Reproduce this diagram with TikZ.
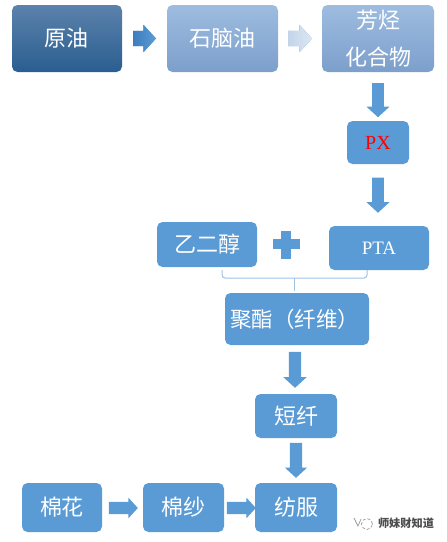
\documentclass[tikz,border=0pt]{standalone}
\usepackage{fontspec}
\setmainfont{Liberation Serif}
\newfontfamily\cjk{Noto Sans CJK SC}
\usetikzlibrary{shapes.arrows}
\definecolor{mainblue}{HTML}{5B9BD5}
\definecolor{bracketblue}{HTML}{9CC2E6}
\tikzset{
  flowbox/.style={rounded corners=5.5pt,inner sep=0pt,outer sep=0pt,text=white,align=center,font=\cjk\fontsize{22}{37}\selectfont},
  bluebox/.style={flowbox,fill=mainblue},
  crudebox/.style={flowbox,top color=crudetop,bottom color=crudebot},
  palebox/.style={flowbox,top color=paletop,bottom color=palebot},
  blockarrow/.style={single arrow,inner sep=0pt,outer sep=0pt,fill=mainblue,draw=none,
    single arrow head extend=5.5pt,inner ysep=5.75pt,single arrow tip angle=95},
  downarrow/.style={blockarrow,rotate=-90},
}
\definecolor{crudetop}{HTML}{5B82AB}
\definecolor{crudebot}{HTML}{2A5E90}
\definecolor{paletop}{HTML}{9EBCE0}
\definecolor{palebot}{HTML}{7C9FCB}
\definecolor{arrowa}{HTML}{3D7DBE}
\definecolor{arrowb}{HTML}{5B9BD5}
\definecolor{arrowc}{HTML}{C3D4EA}
\definecolor{arrowd}{HTML}{DDE7F3}
\begin{document}
\begin{tikzpicture}[x=1pt,y=-1pt]
\useasboundingbox (0,0) rectangle (447,542);
% boxes
\node[crudebox,minimum width=110pt,minimum height=67pt] (crude) at (67,38.5) {原油};
\node[palebox,minimum width=111pt,minimum height=67pt] (naphtha) at (222.5,38.5) {石脑油};
\node[palebox,minimum width=112pt,minimum height=67pt] (arom) at (378,38.5) {芳烃\\化合物};
\node[bluebox,minimum width=62pt,minimum height=43pt,text=red,font=\fontsize{20}{24}\selectfont] (px) at (378,142.5) {PX};
\node[bluebox,minimum width=100pt,minimum height=45pt] (glycol) at (207,244.5) {乙二醇};
\node[bluebox,minimum width=100pt,minimum height=44pt,font=\fontsize{19}{22}\selectfont] (pta) at (379,248) {PTA};
\node[bluebox,minimum width=144pt,minimum height=52pt,font=\cjk\fontsize{21.5}{24}\selectfont] (poly) at (297,319) {\hspace*{-5pt}聚酯（纤维）};
\node[bluebox,minimum width=82pt,minimum height=44pt] (staple) at (296,416) {短纤};
\node[bluebox,minimum width=82pt,minimum height=49pt] (cloth) at (296,507.5) {纺服};
\node[bluebox,minimum width=80pt,minimum height=49pt] (cotton) at (62,507.5) {棉花};
\node[bluebox,minimum width=81pt,minimum height=49pt] (yarn) at (183.5,507.5) {棉纱};
% block arrows
\node[blockarrow,minimum height=23pt,inner ysep=7.5pt,single arrow head extend=6pt,left color=arrowa,right color=arrowb] (a1) at (141,38.5) {};
\node[blockarrow,minimum height=24pt,inner ysep=7.5pt,single arrow head extend=6pt,left color=arrowc,right color=arrowd] (a2) at (296.5,38.5) {};
\node[downarrow,minimum height=34pt] (a3) at (378,97.5) {};
\node[downarrow,minimum height=35pt] (a4) at (378,192.5) {};
\node[downarrow,minimum height=36pt,inner ysep=6pt] (a5) at (295,367) {};
\node[downarrow,minimum height=35pt,inner ysep=6pt,single arrow head extend=5pt] (a6) at (296,457.5) {};
\node[blockarrow,minimum height=29pt,inner ysep=6pt,single arrow head extend=4pt] (a7) at (120.5,508) {};
\node[blockarrow,minimum height=29pt,inner ysep=6pt,single arrow head extend=4pt] (a8) at (238.5,508) {};
% plus sign
\fill[mainblue] (272.5,239) rectangle (299.5,249);
\fill[mainblue] (281,231) rectangle (291,259);
% bracket
\coordinate (bl) at (222,270);
\coordinate (br) at (367,270);
\coordinate (bm) at (294,278);
\coordinate (bt) at (294,291);
\draw[bracketblue,line width=1pt,rounded corners=3pt] (bl) |- (bm) -| (br);
\draw[bracketblue,line width=1pt] (bm) -- (bt);
% watermark
\draw[gray!80,line width=0.7pt] (354,518) -- (358,526) -- (361,519);
\draw[gray!80,line width=0.7pt,densely dashed] (367,524) circle (5.5pt);
\node[inner sep=0pt,text=black!70,font=\cjk\bfseries\fontsize{11.2}{12}\selectfont] (mark) at (406,523) {师妹财知道};
\end{tikzpicture}
\end{document}
